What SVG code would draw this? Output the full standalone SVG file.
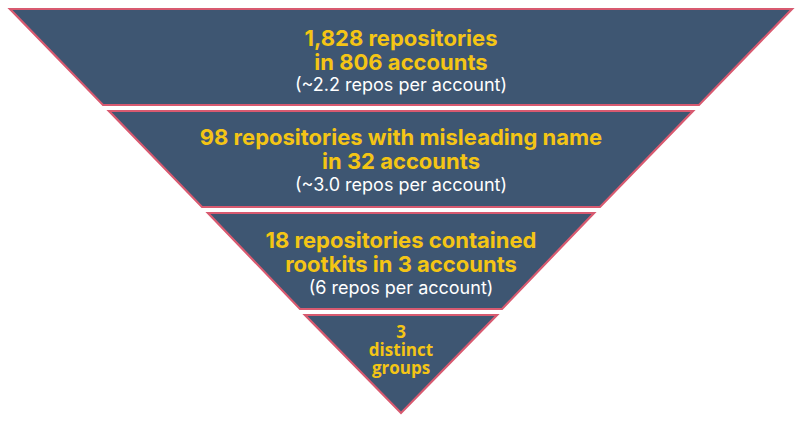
<svg xmlns="http://www.w3.org/2000/svg" width="800" height="423" viewBox="0 0 800 423">
<style>
.lay{fill:#3e5672;stroke:#d85a70;stroke-width:2.2;stroke-linejoin:miter}
.t{font-family:Inter,"Noto Sans","Liberation Sans",sans-serif;font-weight:700;font-size:22px;fill:#f4c515;text-anchor:middle}
.s{font-family:Inter,"Noto Sans","Liberation Sans",sans-serif;font-weight:400;font-size:18px;fill:#ffffff;text-anchor:middle}
.g{font-family:"Open Sans","Noto Sans",sans-serif;font-weight:700;font-size:17px;fill:#f4c515;text-anchor:middle}
</style>
<rect width="800" height="423" fill="#ffffff"/>
<g id="layer1">
<polygon class="lay" points="10,9 792,9 699,105 103,105"/>
<text class="t" x="401" y="46">1,828 repositories</text>
<text class="t" x="401" y="70">in 806 accounts</text>
<text class="s" x="401" y="91">(~2.2 repos per account)</text>
</g>
<g id="layer2">
<polygon class="lay" points="109,111 693,111 600,207 202,207"/>
<text class="t" x="401" y="145">98 repositories with misleading name</text>
<text class="t" x="401" y="169">in 32 accounts</text>
<text class="s" x="401" y="191">(~3.0 repos per account)</text>
</g>
<g id="layer3">
<polygon class="lay" points="208,213 594,213 502,309 300,309"/>
<text class="t" x="401" y="248">18 repositories contained</text>
<text class="t" x="401" y="272">rootkits in 3 accounts</text>
<text class="s" x="401" y="294">(6 repos per account)</text>
</g>
<g id="layer4">
<polygon class="lay" points="305,315 497,315 401,413"/>
<text class="g" x="401" y="338">3</text>
<text class="g" x="401" y="356">distinct</text>
<text class="g" x="401" y="374">groups</text>
</g>
</svg>
